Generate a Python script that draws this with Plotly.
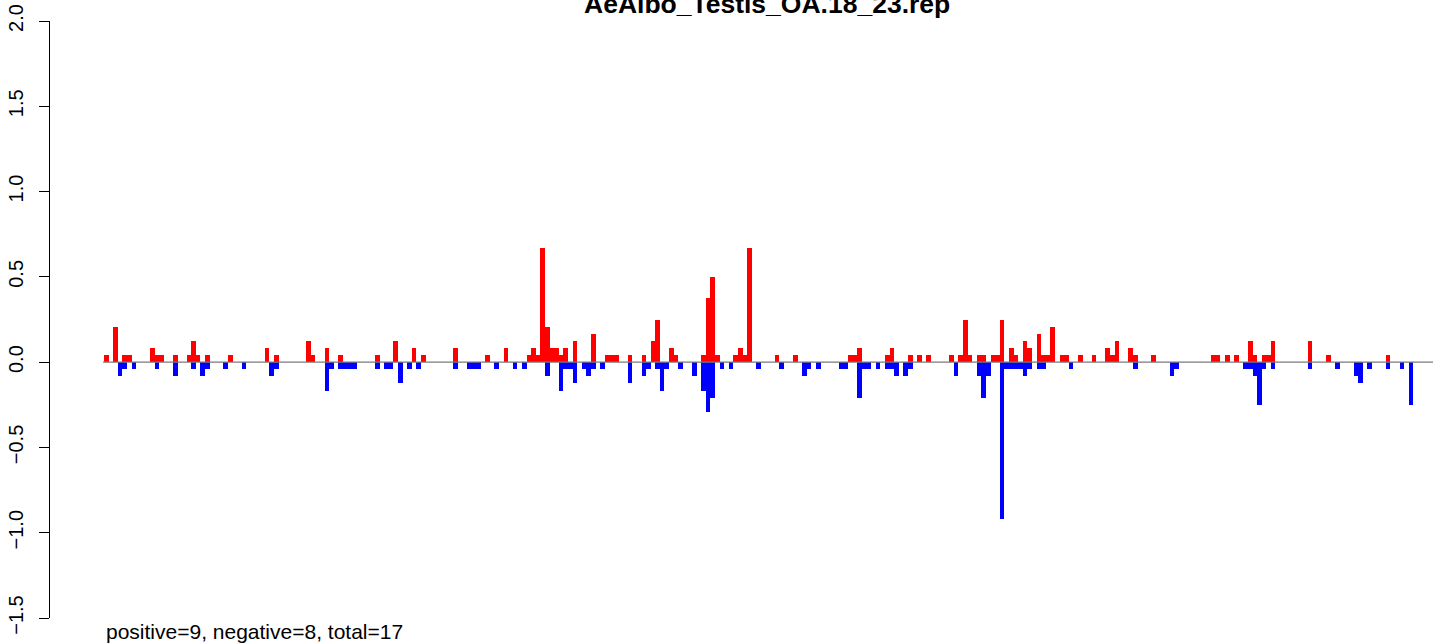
import plotly.graph_objects as go

# position index of each bar slot (0..284) and the value there
pos_idx = [0, 2, 4, 5, 10, 11, 12, 15, 18, 19, 20, 22, 27, 35, 37, 44, 45, 48, 51, 59,
           63, 67, 69, 76, 83, 87, 92, 93, 94, 95, 96, 97, 98, 99, 100, 102, 106, 109, 110, 111,
           114, 117, 119, 120, 123, 124, 130, 131, 132, 133, 137, 138, 139, 140, 146, 150, 162, 163, 164, 170,
           171, 175, 177, 179, 184, 186, 187, 188, 190, 191, 193, 194, 195, 197, 198, 200, 201, 203, 204, 205,
           206, 208, 209, 212, 215, 218, 219, 220, 223, 224, 228, 241, 242, 244, 246, 249, 250, 252, 253, 254,
           262, 266, 279]
pos_val = [0.042, 0.208, 0.042, 0.042, 0.083, 0.042, 0.042, 0.042, 0.042, 0.125, 0.042, 0.042, 0.042, 0.083, 0.042, 0.125, 0.042, 0.083, 0.042, 0.042,
           0.125, 0.083, 0.042, 0.083, 0.042, 0.083, 0.042, 0.083, 0.042, 0.667, 0.208, 0.083, 0.083, 0.042, 0.083, 0.125, 0.167, 0.042, 0.042, 0.042,
           0.042, 0.042, 0.125, 0.25, 0.083, 0.042, 0.042, 0.375, 0.5, 0.042, 0.042, 0.083, 0.042, 0.667, 0.042, 0.042, 0.042, 0.042, 0.083, 0.042,
           0.083, 0.042, 0.042, 0.042, 0.042, 0.042, 0.25, 0.042, 0.042, 0.042, 0.042, 0.042, 0.25, 0.083, 0.042, 0.125, 0.083, 0.167, 0.042, 0.042,
           0.208, 0.042, 0.042, 0.042, 0.042, 0.083, 0.042, 0.125, 0.083, 0.042, 0.042, 0.042, 0.042, 0.042, 0.042, 0.125, 0.042, 0.042, 0.042, 0.125,
           0.125, 0.042, 0.042]

neg_idx = [3, 4, 6, 11, 15, 19, 21, 22, 26, 30, 36, 37, 48, 49, 51, 52, 53, 54, 59, 61,
           62, 64, 66, 68, 76, 79, 80, 81, 85, 89, 91, 96, 99, 100, 101, 102, 104, 105, 106, 108,
           114, 117, 118, 120, 121, 122, 125, 128, 130, 131, 132, 134, 136, 142, 147, 152, 153, 155, 160, 161,
           164, 165, 166, 168, 170, 171, 172, 174, 175, 185, 190, 191, 192, 195, 196, 197, 198, 199, 200, 201,
           203, 204, 210, 224, 232, 233, 248, 249, 250, 251, 252, 254, 262, 268, 272, 273, 275, 279, 282, 284]
neg_val = [-0.083, -0.042, -0.042, -0.042, -0.083, -0.042, -0.083, -0.042, -0.042, -0.042, -0.083, -0.042, -0.167, -0.042, -0.042, -0.042, -0.042, -0.042, -0.042, -0.042,
           -0.042, -0.125, -0.042, -0.042, -0.042, -0.042, -0.042, -0.042, -0.042, -0.042, -0.042, -0.083, -0.167, -0.042, -0.042, -0.125, -0.042, -0.083, -0.042, -0.042,
           -0.125, -0.083, -0.042, -0.042, -0.167, -0.042, -0.042, -0.083, -0.167, -0.292, -0.208, -0.042, -0.042, -0.042, -0.042, -0.083, -0.042, -0.042, -0.042, -0.042,
           -0.208, -0.042, -0.042, -0.042, -0.042, -0.042, -0.083, -0.083, -0.042, -0.083, -0.083, -0.208, -0.083, -0.917, -0.042, -0.042, -0.042, -0.042, -0.083, -0.042,
           -0.042, -0.042, -0.042, -0.042, -0.083, -0.042, -0.042, -0.042, -0.083, -0.25, -0.042, -0.042, -0.042, -0.042, -0.083, -0.125, -0.042, -0.042, -0.042, -0.25]

n_slots = 285
y_ticks = [-1.5, -1.0, -0.5, 0.0, 0.5, 1.0, 1.5, 2.0]
y_tick_text = ["\u22121.5", "\u22121.0", "\u22120.5", "0.0", "0.5", "1.0", "1.5", "2.0"]
title_text = "AeAlbo_Testis_OA.18_23.rep"
footer_text = "positive=9, negative=8, total=17"

FONT = "Liberation Sans, Arial, Helvetica, sans-serif"

fig = go.Figure()
fig.add_trace(go.Bar(x=pos_idx, y=pos_val, width=1.0, marker=dict(color="#FF0000", line=dict(width=0)),
                     showlegend=False, hoverinfo="x+y"))
fig.add_trace(go.Bar(x=neg_idx, y=neg_val, width=1.0, marker=dict(color="#0000FF", line=dict(width=0)),
                     showlegend=False, hoverinfo="x+y"))

x_lo, x_hi = -12.255, 288.79
fig.add_shape(type="line", xref="x", yref="y", x0=-0.72, x1=x_hi, y0=0, y1=0,
              line=dict(color="#7a7a7a", width=1.2), layer="above")

fig.add_annotation(text="<b>" + title_text + "</b>", xref="paper", yref="paper",
                   x=0.5184, y=1.0277, xanchor="center", yanchor="middle", showarrow=False,
                   font=dict(family=FONT, size=26.5, color="black"))
fig.add_annotation(text=footer_text, xref="paper", yref="paper",
                   x=0.03905, y=-0.0218, xanchor="left", yanchor="middle", showarrow=False,
                   font=dict(family=FONT, size=21, color="black"))

fig.update_layout(
    width=1433, height=643,
    margin=dict(l=50, r=0, t=21, b=25, pad=0),
    paper_bgcolor="white", plot_bgcolor="white",
    barmode="overlay", bargap=0,
    xaxis=dict(visible=False, range=[x_lo, x_hi]),
    yaxis=dict(range=[-1.5, 2.0], tickvals=y_ticks, ticktext=y_tick_text, tickangle=-90,
               showline=True, linecolor="black", linewidth=1, ticks="outside", ticklen=10,
               tickcolor="black", tickwidth=1, showgrid=False, zeroline=False,
               ticklabelstandoff=8,
               tickfont=dict(family=FONT, size=20, color="black")),
    font=dict(family=FONT),
)

fig.write_html("out.html",
               config={"displayModeBar": False},
               post_script="document.body.style.margin='0';document.body.style.overflow='hidden';")
